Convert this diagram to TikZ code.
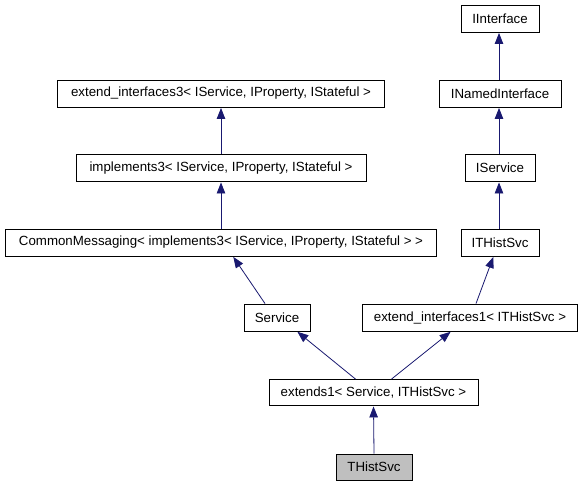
\documentclass[tikz,border=0pt]{standalone}
\usepackage{fontspec}
\setmainfont{Liberation Sans}
\usetikzlibrary{arrows.meta}
\definecolor{edgeblue}{RGB}{25,25,112}
\definecolor{curfill}{RGB}{191,191,191}
\begin{document}
\begin{tikzpicture}[x=1pt,y=-1pt,
  cls/.style={draw=black, line width=0.9pt, fill=white, inner sep=0pt, minimum height=27pt,
    font=\fontsize{13.3}{16}\selectfont, text=black},
  inh/.style={draw=edgeblue, line width=0.8pt, -{Triangle[length=11pt,width=8.5pt]}, shorten >=0.5pt}]
\useasboundingbox (0,0) rectangle (580,485);
\fill[white] (0,0) rectangle (580,485);
\node[cls, minimum width=78pt]  (iint)  at (500,18.5)  {IInterface};
\node[cls, minimum width=327pt] (ext3)  at (221,93.5)  {extend\_interfaces3< IService, IProperty, IStateful >};
\node[cls, minimum width=122pt] (inamed) at (500,93.5) {INamedInterface};
\node[cls, minimum width=290pt] (impl3) at (221,168)   {implements3< IService, IProperty, IStateful >};
\node[cls, minimum width=70pt]  (isvc)  at (500,168)   {IService};
\node[cls, minimum width=431pt] (cmsg)  at (221,242.5) {CommonMessaging< implements3< IService, IProperty, IStateful > >};
\node[cls, minimum width=78pt]  (ithist) at (500,242.5) {ITHistSvc};
\node[cls, minimum width=66pt]  (svc)   at (277,317.5) {Service};
\node[cls, minimum width=215pt] (ext1)  at (470,317.5) {extend\_interfaces1< ITHistSvc >};
\node[cls, minimum width=209pt, minimum height=26pt] (exts1) at (373.5,392.5) {extends1< Service, ITHistSvc >};
\node[cls, minimum width=76pt, minimum height=26pt, fill=curfill] (thist) at (374,467) {THistSvc};
\draw[inh] ([xshift=-1pt]inamed.north) -- ([xshift=-1pt]iint.south);
\draw[inh] ([xshift=-1pt]isvc.north) -- ([xshift=-1pt]inamed.south);
\draw[inh] ([xshift=-1pt]ithist.north) -- ([xshift=-1pt]isvc.south);
\draw[inh] (impl3.north) -- (ext3.south);
\draw[inh] (cmsg.north) -- (impl3.south);
\draw[inh] ([xshift=-12pt]svc.north) -- ([xshift=12pt]cmsg.south);
\draw[inh] ([xshift=6pt]ext1.north) -- ([xshift=-6.5pt]ithist.south);
\draw[inh] ([xshift=-18pt]exts1.north) -- ([xshift=20pt]svc.south);
\draw[inh] ([xshift=18pt]exts1.north) -- ([xshift=-19pt]ext1.south);
\draw[inh] (thist.north) -- (exts1.south);
\end{tikzpicture}
\end{document}
